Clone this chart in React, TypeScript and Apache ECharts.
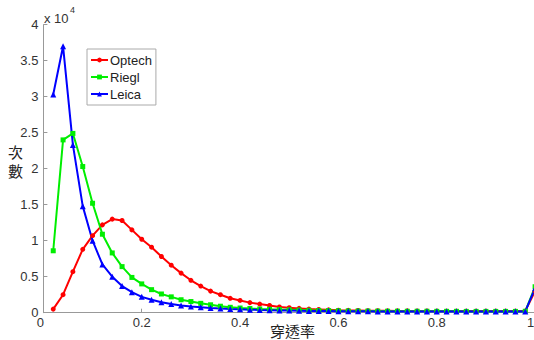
import React, { useEffect, useRef } from "react";
import * as echarts from "echarts";

const penetration = [
  0.02, 0.04, 0.06, 0.08, 0.1, 0.12, 0.14, 0.16, 0.18, 0.2,
  0.22, 0.24, 0.26, 0.28, 0.3, 0.32, 0.34, 0.36, 0.38, 0.4,
  0.42, 0.44, 0.46, 0.48, 0.5, 0.52, 0.54, 0.56, 0.58, 0.6,
  0.62, 0.64, 0.66, 0.68, 0.7, 0.72, 0.74, 0.76, 0.78, 0.8,
  0.82, 0.84, 0.86, 0.88, 0.9, 0.92, 0.94, 0.96, 0.98, 1.0,
];

// counts in units of 10^4
const optech = [
  0.05, 0.25, 0.57, 0.88, 1.07, 1.22, 1.3, 1.28, 1.15, 1.02,
  0.91, 0.78, 0.66, 0.55, 0.45, 0.37, 0.3, 0.25, 0.2, 0.17,
  0.14, 0.12, 0.1, 0.08, 0.07, 0.06, 0.05, 0.045, 0.04, 0.035,
  0.032, 0.03, 0.028, 0.027, 0.026, 0.025, 0.025, 0.024, 0.024, 0.023,
  0.023, 0.023, 0.022, 0.022, 0.022, 0.022, 0.022, 0.022, 0.022, 0.3,
];

const riegl = [
  0.86, 2.4, 2.49, 2.03, 1.52, 1.09, 0.83, 0.64, 0.49, 0.4,
  0.32, 0.26, 0.22, 0.18, 0.155, 0.13, 0.11, 0.09, 0.075, 0.065,
  0.058, 0.052, 0.047, 0.043, 0.04, 0.037, 0.034, 0.031, 0.029, 0.027,
  0.025, 0.024, 0.023, 0.022, 0.021, 0.021, 0.02, 0.02, 0.02, 0.019,
  0.019, 0.019, 0.018, 0.018, 0.018, 0.018, 0.018, 0.018, 0.02, 0.36,
];

const leica = [
  3.03, 3.7, 2.33, 1.48, 1.0, 0.67, 0.5, 0.37, 0.285, 0.22,
  0.18, 0.145, 0.12, 0.1, 0.085, 0.075, 0.065, 0.058, 0.052, 0.047,
  0.042, 0.038, 0.035, 0.032, 0.029, 0.027, 0.025, 0.023, 0.022, 0.021,
  0.02, 0.019, 0.019, 0.018, 0.018, 0.018, 0.018, 0.018, 0.018, 0.018,
  0.018, 0.018, 0.018, 0.018, 0.018, 0.018, 0.018, 0.018, 0.018, 0.34,
];

const seriesNames = ["Optech", "Riegl", "Leica"];
const xTitle = "穿透率";
const yTitle = ["次", "數"];

const pair = (ys: number[]) => penetration.map((x, i) => [x, ys[i]]);

export default function App() {
  const ref = useRef<HTMLDivElement>(null);
  useEffect(() => {
    if (!ref.current) return;
    const chart = echarts.init(ref.current, null, { renderer: "svg" });
    const font = "'Liberation Sans', Arial, sans-serif";
    const cjk = "'Noto Sans CJK TC', 'Noto Sans CJK SC', sans-serif";
    const mk = (name: string, data: number[], color: string, symbol: string, size: number) => ({
      name,
      type: "line",
      data: pair(data),
      symbol,
      symbolSize: size,
      showSymbol: true,
      showAllSymbol: true,
      lineStyle: { color, width: 2 },
      itemStyle: { color, borderWidth: 0 },
      emphasis: { disabled: true },
    });
    const lbl = { fontFamily: font, fontSize: 13, color: "#333" };
    chart.setOption({
      animation: false,
      backgroundColor: "#fff",
      grid: {
        left: 43.4,
        width: 491.7,
        top: 24.7,
        height: 288,
        containLabel: false,
        outerBoundsMode: "none",
      },
      legend: {
        orient: "vertical",
        left: 87,
        top: 49,
        itemWidth: 17,
        itemHeight: 6,
        itemGap: 3,
        padding: [4, 4, 4, 3],
        borderColor: "#aaa",
        borderWidth: 1,
        backgroundColor: "#fff",
        textStyle: { fontFamily: font, fontSize: 13, color: "#222", padding: [0, 0, 0, -3], lineHeight: 14 },
        data: seriesNames,
      },
      xAxis: {
        type: "value",
        min: 0,
        max: 1,
        interval: 0.2,
        axisLine: { show: true, lineStyle: { color: "#999", width: 1 } },
        axisTick: { show: true, inside: true, length: 4, lineStyle: { color: "#999" } },
        splitLine: { show: false },
        axisLabel: {
          ...lbl,
          margin: 3,
          formatter: (v: number) => (v === 0 ? "{l|0}" : v === 1 ? "{r|1}" : String(v)),
          rich: {
            l: { ...lbl, padding: [0, 6, 0, 0] },
            r: { ...lbl, padding: [0, 9, 0, 0] },
          },
        },
      },
      yAxis: {
        type: "value",
        min: 0,
        max: 4,
        interval: 0.5,
        axisLine: { show: true, lineStyle: { color: "#999", width: 1 } },
        axisTick: { show: true, inside: true, length: 4, lineStyle: { color: "#999" } },
        splitLine: { show: false },
        axisLabel: { ...lbl, margin: 5 },
      },
      graphic: [
        { type: "text", left: 44, top: 12, style: { text: "x 10", fontFamily: font, fontSize: 13, fill: "#333" } },
        { type: "text", left: 70, top: 5, style: { text: "4", fontFamily: font, fontSize: 9, fill: "#333" } },
        { type: "text", left: 8, top: 144, style: { text: yTitle[0], fontFamily: cjk, fontSize: 15, fill: "#222" } },
        { type: "text", left: 8, top: 163, style: { text: yTitle[1], fontFamily: cjk, fontSize: 15, fill: "#222" } },
        { type: "text", left: 270, top: 323, style: { text: xTitle, fontFamily: cjk, fontSize: 15, fill: "#222" } },
      ],
      series: [
        mk(seriesNames[0], optech, "#ff0000", "circle", 5),
        mk(seriesNames[1], riegl, "#00ee00", "rect", 5),
        mk(seriesNames[2], leica, "#0000ff", "triangle", 6),
      ],
    });
    return () => chart.dispose();
  }, []);
  return (
    <div
      ref={ref}
      style={{ position: "fixed", left: 0, top: 0, width: 534, height: 340 }}
    />
  );
}
